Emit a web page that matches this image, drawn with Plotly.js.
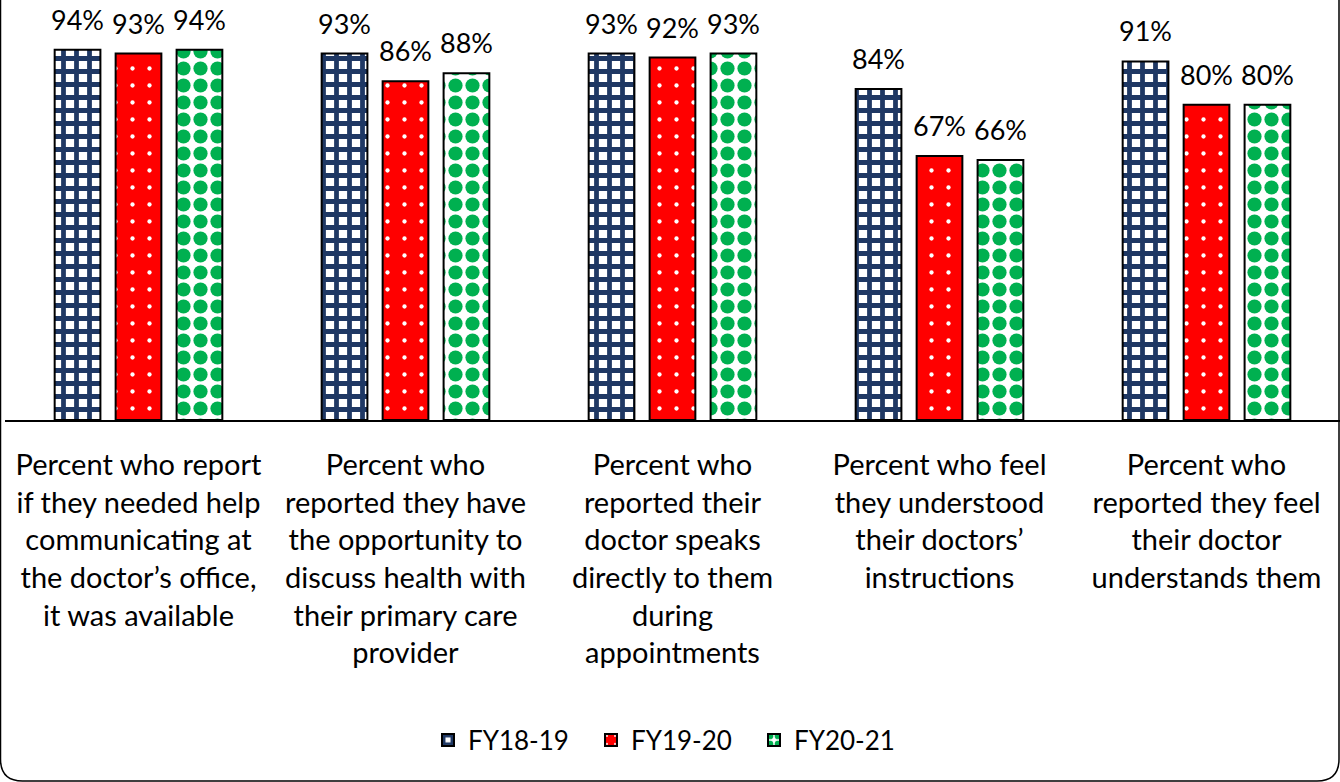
<!DOCTYPE html>
<html>
<head>
<meta charset="utf-8">
<script src="https://cdn.plot.ly/plotly-3.0.1.min.js"></script>
<style>html,body{margin:0;padding:0;background:#fff;}#chart{width:1340px;height:782px;}</style>
</head>
<body>
<div id="chart"></div>
<script>
const categories = [
  "Percent who report<br>if they needed help<br>communicating at<br>the doctor’s office,<br>it was available",
  "Percent who<br>reported they have<br>the opportunity to<br>discuss health with<br>their primary care<br>provider",
  "Percent who<br>reported their<br>doctor speaks<br>directly to them<br>during<br>appointments",
  "Percent who feel<br>they understood<br>their doctors’<br>instructions",
  "Percent who<br>reported they feel<br>their doctor<br>understands them"
];
const seriesNames = ["FY18-19", "FY19-20", "FY20-21"];
const fy1819 = [94, 93, 93, 84, 91];
const fy1920 = [93, 86, 92, 67, 80];
const fy2021 = [94, 88, 93, 66, 80];

const W = 1340, H = 782, ml = 5, mr = 0, mt = 26, mb = 362;
const pw = W - ml - mr, ph = H - mt - mb;
const px = p => (p - ml) / pw;
const py = p => (H - mb - p) / ph;

const FONT = "Lato, 'Open Sans', sans-serif";
const bargap = 0.315;
const slot = (1 - bargap) / 3;

const styles = [
  {color: "#ffffff", pattern: {shape: "+", fgcolor: "#1F3864", bgcolor: "#ffffff", size: 13, solidity: 0.6}},
  {color: "#FF0000", pattern: {shape: ".", fgcolor: "#ffffff", bgcolor: "#FF0000", size: 17, solidity: 0.05}},
  {color: "#ffffff", pattern: {shape: ".", fgcolor: "#00B050", bgcolor: "#ffffff", size: 17, solidity: 0.55}}
];
const allSeries = [fy1819, fy1920, fy2021];
const idx = categories.map((c, i) => i);

const traces = allSeries.map((vals, k) => ({
  type: "bar",
  name: seriesNames[k],
  x: idx,
  y: vals,
  marker: {
    color: styles[k].color,
    pattern: styles[k].pattern,
    line: {color: "#000000", width: 2}
  },
  hoverinfo: "skip"
}));

const annotations = [];
allSeries.forEach((vals, k) => {
  vals.forEach((v, i) => {
    annotations.push({
      x: i + (k - 1) * slot, y: v, xref: "x", yref: "y",
      text: v + "%", showarrow: false, yanchor: "bottom", yshift: 12,
      font: {family: FONT, size: 27, color: "#000"}
    });
  });
});

const L = 0.5, R = 1339, B = 781, T = -30, r = 22;
const path = `M ${px(L)},${py(T)} L ${px(L)},${py(B - r)} Q ${px(L)},${py(B)} ${px(L + r)},${py(B)} L ${px(R - r)},${py(B)} Q ${px(R)},${py(B)} ${px(R)},${py(B - r)} L ${px(R)},${py(T)}`;

const layout = {
  width: W, height: H,
  margin: {l: ml, r: mr, t: mt, b: mb},
  paper_bgcolor: "#ffffff", plot_bgcolor: "#ffffff",
  barmode: "group", bargap: bargap, bargroupgap: 0.25,
  showlegend: true,
  legend: {orientation: "h", x: 0.5, xanchor: "center", y: py(740), yanchor: "middle",
    font: {family: FONT, size: 26, color: "#000"}, itemwidth: 30, tracegroupgap: 0,
    entrywidth: 118, entrywidthmode: "pixels"},
  xaxis: {
    type: "linear", range: [-0.5, 4.5],
    tickmode: "array", tickvals: idx, ticktext: categories,
    showline: true, linecolor: "#000", linewidth: 2,
    ticks: "", showgrid: false, zeroline: false, automargin: false,
    ticklabelstandoff: 18,
    tickfont: {family: FONT, size: 29, color: "#000"}
  },
  yaxis: {range: [0, 100], visible: false, showgrid: false, zeroline: false},
  annotations: annotations,
  shapes: [{type: "path", xref: "paper", yref: "paper", path: path, line: {color: "#000", width: 1.5}}]
};

Plotly.newPlot("chart", traces, layout, {displayModeBar: false, staticPlot: true});
</script>
</body>
</html>
